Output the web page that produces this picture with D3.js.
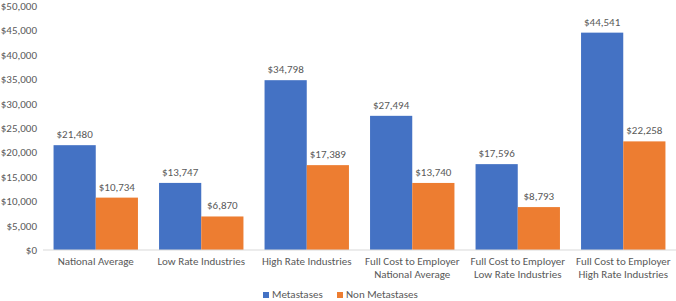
<!DOCTYPE html>
<html>
<head>
<meta charset="utf-8">
<script src="https://cdn.jsdelivr.net/npm/d3@7"></script>
<style>
  body { margin: 0; background: #fff; }
  text { font-family: Calibri, Carlito, "Open Sans", sans-serif; fill: #595959; }
</style>
</head>
<body>
<svg id="chart"></svg>
<script>
const categories = [
  ["National Average"],
  ["Low Rate Industries"],
  ["High Rate Industries"],
  ["Full Cost to Employer", "National Average"],
  ["Full Cost to Employer", "Low Rate Industries"],
  ["Full Cost to Employer", "High Rate Industries"]
];
const seriesNames = ["Metastases", "Non Metastases"];
const metastases = [21480, 13747, 34798, 27494, 17596, 44541];
const nonMetastases = [10734, 6870, 17389, 13740, 8793, 22258];
const yTicks = [0, 5000, 10000, 15000, 20000, 25000, 30000, 35000, 40000, 45000, 50000];
const colors = ["#4472C4", "#ED7D31"];

const width = 676, height = 301;
const margin = {top: 6, right: 0, bottom: 51, left: 43};

let svg = d3.select("#chart")
            .attr("width", width)
            .attr("height", height);

let x = d3.scaleBand()
          .domain(d3.range(categories.length))
          .range([margin.left, width - margin.right])
          .paddingInner(0.2)
          .paddingOuter(0.1);

let xs = d3.scaleBand()
           .domain(seriesNames)
           .range([0, x.bandwidth()]);

let y = d3.scaleLinear([0, 50000], [height - margin.bottom, margin.top]);

let fmt = d3.format("$,");

// y axis labels, no line
let yAxis = d3.axisLeft(y).tickValues(yTicks).tickFormat(fmt).tickSize(0).tickPadding(6);
svg.append("g")
   .attr("transform", `translate(${margin.left},0)`)
   .call(yAxis)
   .call(g => g.select(".domain").remove())
   .call(g => g.selectAll("text").style("font-size", "11px").attr("fill", "#595959"));

let data = categories.map((c, i) => ({i, values: [metastases[i], nonMetastases[i]]}));

let groups = svg.append("g")
                .selectAll("g")
                .data(data)
                .join("g")
                .attr("transform", d => `translate(${x(d.i)},0)`);

groups.selectAll("rect")
      .data(d => d.values.map((v, k) => ({v, k})))
      .join("rect")
      .attr("x", d => xs(seriesNames[d.k]))
      .attr("y", d => y(d.v))
      .attr("width", xs.bandwidth())
      .attr("height", d => y(0) - y(d.v))
      .attr("fill", d => colors[d.k]);

groups.selectAll("text.val")
      .data(d => d.values.map((v, k) => ({v, k})))
      .join("text")
      .attr("class", "val")
      .attr("x", d => xs(seriesNames[d.k]) + xs.bandwidth() / 2)
      .attr("y", d => y(d.v) - 7)
      .attr("text-anchor", "middle")
      .style("font-size", "11px")
      .text(d => fmt(d.v));

// baseline
svg.append("line")
   .attr("x1", margin.left)
   .attr("x2", width)
   .attr("y1", y(0))
   .attr("y2", y(0))
   .attr("stroke", "#d9d9d9")
   .attr("stroke-width", 1);

// category labels
let xl = svg.append("g")
            .selectAll("text")
            .data(categories)
            .join("text")
            .attr("text-anchor", "middle")
            .attr("x", (d, i) => x(i) + x.bandwidth() / 2)
            .attr("y", y(0) + 15)
            .style("font-size", "11px");
xl.selectAll("tspan")
  .data(d => d)
  .join("tspan")
  .attr("x", function () { return this.parentNode.getAttribute("x"); })
  .attr("dy", (d, i) => i === 0 ? 0 : 13)
  .text(d => d);

// legend
let legend = svg.append("g").attr("transform", `translate(263,298)`);
let li = legend.selectAll("g")
               .data(seriesNames)
               .join("g")
               .attr("transform", (d, i) => `translate(${i * 74},0)`);
li.append("rect")
  .attr("x", 0).attr("y", -6)
  .attr("width", 6).attr("height", 6)
  .attr("fill", (d, i) => colors[i]);
li.append("text")
  .attr("x", 9).attr("y", 0)
  .style("font-size", "11px")
  .text(d => d);
</script>
</body>
</html>
